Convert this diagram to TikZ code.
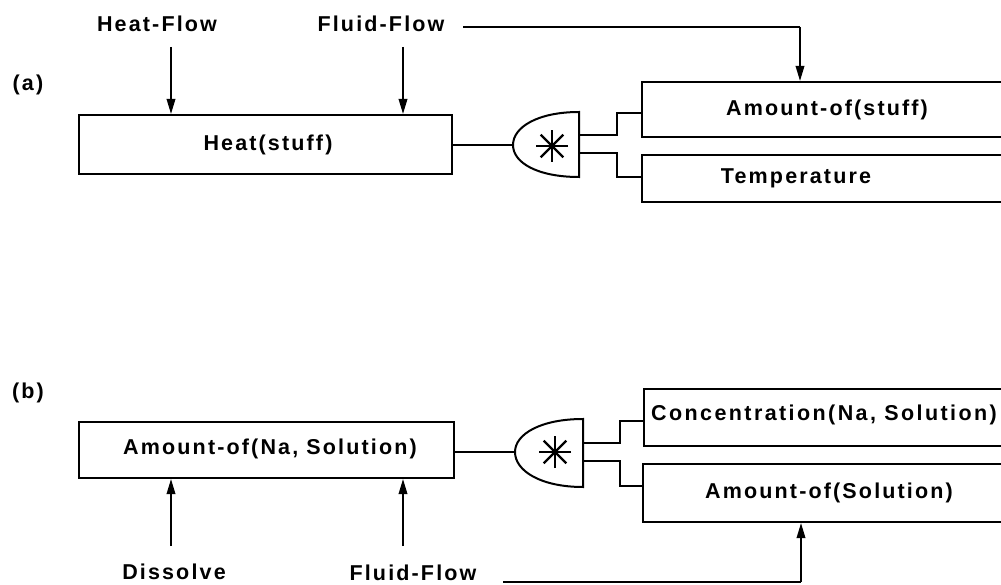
\documentclass[tikz,border=0pt]{standalone}
\usepackage{fontspec}
\setmainfont{Liberation Sans}[BoldFont={Liberation Sans Bold}]
\newfontfamily\lblfont{Liberation Sans Bold}[LetterSpace=10]
\newfontfamily\widelblfont{Liberation Sans Bold}[LetterSpace=11.2]
\usetikzlibrary{arrows.meta,calc}
\begin{document}
\begin{tikzpicture}[x=1pt,y=-1pt,
  ln/.style={line width=2pt, line join=miter},
  arr/.style={line width=1.8pt, -{Triangle[length=15pt,width=8.5pt]}},
  boxn/.style={draw, line width=2pt, rectangle, inner sep=0pt, anchor=north west},
  lbl/.style={font=\fontsize{21.5}{24}\lblfont, inner sep=0pt},
  widelbl/.style={font=\fontsize{21.5}{24}\widelblfont, inner sep=0pt},
  star/.style={line width=2.2pt}]
\useasboundingbox (0,0) rectangle (1001,585);
\clip (0,0) rectangle (1001,585);

% ---------- (a) ----------
\node[lbl] (pa) at (28,85) {(a)};
\node[lbl] (hf) at (157,24) {Heat-Flow};
\node[lbl] (ffa) at (381,24) {Fluid-Flow};
\node[boxn, minimum width=373pt, minimum height=59pt] (heat) at (78,114) {};
\node[lbl] at (268,145) {Heat(stuff)};

\coordinate (hfs) at (171,47);
\coordinate (ffs) at (403,47);
\draw[arr] (hfs) -- (hfs |- heat.north);
\draw[arr] (ffs) -- (ffs |- heat.north);

% gate a
\coordinate (ga) at (513,145);
\coordinate (gat) at (579,112);
\coordinate (gab) at (579,177);
\draw[ln] (gat) .. controls (538,112) and (513,127) .. (ga) .. controls (513,163) and (538,177) .. (gab) -- cycle;
\coordinate (sa) at (552,146);
\foreach \a in {0,45,90,135}{
  \draw[star] ($(sa)+(\a:16)$) -- ($(sa)+(\a+180:16)$);
}
\draw[ln] (ga -| heat.east) -- (ga);

% output boxes a
\node[boxn, minimum width=420pt, minimum height=55pt] (amt) at (641,81) {};
\node[lbl] at (827,110) {Amount-of(stuff)};
\node[boxn, minimum width=420pt, minimum height=47pt] (temp) at (641,154) {};
\node[lbl] at (796,178) {Temperature};

\draw[ln] (579,135) -- (617,135) -- (617,113) -- (amt.west |- 0,113);
\draw[ln] (579,153) -- (617,153) -- (617,177) -- (temp.west |- 0,177);

\coordinate (ffa1) at (463,27);
\coordinate (ffa2) at (800,27);
\draw[line width=1.8pt] (ffa1) -- (ffa2);
\draw[arr] (ffa2) -- (ffa2 |- amt.north);

% ---------- (b) ----------
\node[lbl] (pb) at (28,393) {(b)};
\node[boxn, minimum width=375pt, minimum height=56pt] (na) at (78,421) {};
\node[lbl] at (270,449) {Amount-of(Na, Solution)};
\node[lbl] (dis) at (174,572) {Dissolve};
\node[lbl] (ffb) at (413,573) {Fluid-Flow};

\coordinate (dss) at (171,546);
\coordinate (fbs) at (403,546);
\draw[arr] (dss) -- (dss |- na.south);
\draw[arr] (fbs) -- (fbs |- na.south);

% gate b
\coordinate (gb) at (515,452);
\coordinate (gbt) at (583,419);
\coordinate (gbb) at (583,487);
\draw[ln] (gbt) .. controls (541,419) and (515,434) .. (gb) .. controls (515,471) and (541,487) .. (gbb) -- cycle;
\coordinate (sb) at (555,452);
\foreach \a in {0,45,90,135}{
  \draw[star] ($(sb)+(\a:16)$) -- ($(sb)+(\a+180:16)$);
}
\draw[ln] (gb -| na.east) -- (gb);

\node[boxn, minimum width=420pt, minimum height=57pt] (conc) at (643,388) {};
\node[widelbl, anchor=west] at (651,415) {Concentration(Na, Solution)};
\node[boxn, minimum width=420pt, minimum height=58pt] (amsol) at (642,463) {};
\node[lbl] at (829,493) {Amount-of(Solution)};

\draw[ln] (583,443) -- (620,443) -- (620,421) -- (conc.west |- 0,421);
\draw[ln] (583,461) -- (620,461) -- (620,486) -- (amsol.west |- 0,486);

\coordinate (ffb1) at (503,582);
\coordinate (ffb2) at (801,582);
\draw[line width=1.8pt] (ffb1) -- (ffb2);
\draw[arr] (ffb2) -- (ffb2 |- amsol.south);
\end{tikzpicture}
\end{document}
